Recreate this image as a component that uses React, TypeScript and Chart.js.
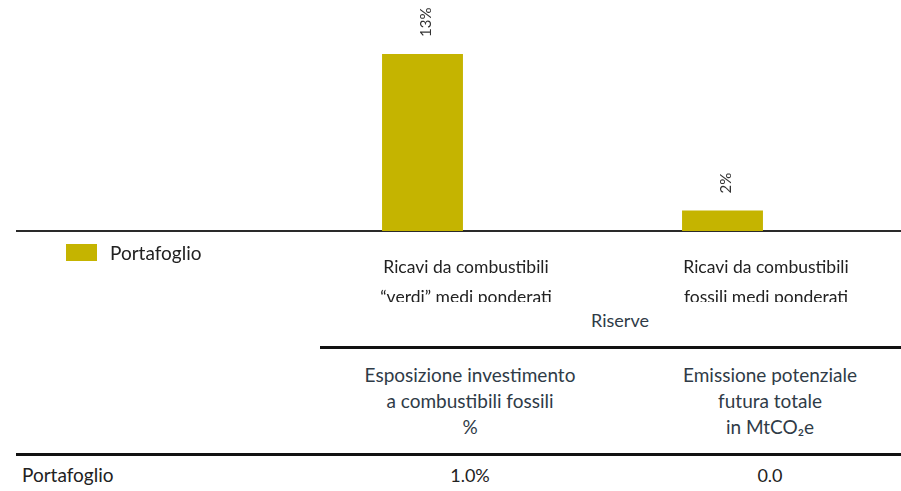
import React, { useEffect, useRef } from "react";
import { Chart, registerables } from "chart.js";

Chart.register(...registerables);

// ---- data ----
const categories: (string | string[])[] = [
  "",
  ["Ricavi da combustibili", "“verdi” medi ponderati"],
  ["Ricavi da combustibili", "fossili medi ponderati"],
];
const portfolioLabel = "Portafoglio";
const portfolioValues: (number | null)[] = [null, 13, 1.5];
const spacerValues: (number | null)[] = [null, null, null];

const tableGroupTitle = "Riserve";
const tableHeaders: string[][] = [
  ["Esposizione investimento", "a combustibili fossili", "%"],
  ["Emissione potenziale", "futura totale", "in MtCO₂e"],
];
const tableRowLabel = "Portafoglio";
const tableRowValues = ["1.0%", "0.0"];

const BAR_COLOR = "#C5B400";
const FONT = "Lato, 'Open Sans', sans-serif";

const valueLabels = {
  id: "valueLabels",
  afterDatasetsDraw(chart: any) {
    const ctx = chart.ctx;
    const meta = chart.getDatasetMeta(0);
    meta.data.forEach((bar: any, i: number) => {
      const v = portfolioValues[i];
      if (v == null) return;
      ctx.save();
      ctx.translate(bar.x + 4, bar.y - 17);
      ctx.rotate(-Math.PI / 2);
      ctx.font = `15px ${FONT}`;
      ctx.fillStyle = "#333";
      ctx.textAlign = "left";
      ctx.textBaseline = "middle";
      ctx.fillText(`${Math.round(v)}%`, 0, 0);
      ctx.restore();
    });
  },
};

export default function App() {
  const canvasRef = useRef<HTMLCanvasElement | null>(null);

  useEffect(() => {
    if (!canvasRef.current) return;
    const chart = new Chart(canvasRef.current, {
      type: "bar",
      data: {
        labels: categories as any,
        datasets: [
          {
            label: portfolioLabel,
            data: portfolioValues,
            backgroundColor: BAR_COLOR,
            borderWidth: 0,
            categoryPercentage: 0.58,
            barPercentage: 0.93,
          },
          {
            label: "",
            data: spacerValues,
            backgroundColor: "rgba(0,0,0,0)",
            categoryPercentage: 0.58,
            barPercentage: 0.93,
          },
        ],
      },
      options: {
        responsive: false,
        animation: false,
        devicePixelRatio: 1,
        layout: { padding: { top: 5, left: 0, right: 0, bottom: 0 } },
        plugins: {
          legend: { display: false },
          tooltip: { enabled: false },
        },
        scales: {
          x: {
            grid: { display: false, drawTicks: false },
            border: { display: true, color: "#2a2a2a", width: 2 },
            ticks: {
              autoSkip: false,
              maxRotation: 0,
              minRotation: 0,
              padding: 21,
              color: "#222",
              font: { family: FONT, size: 17.5, lineHeight: "30px" },
            },
            afterFit: (scale: any) => {
              scale.height = 71;
            },
          },
          y: {
            display: false,
            min: 0,
            max: 16,
            grid: { display: false },
          },
        },
      },
      plugins: [valueLabels],
    });
    return () => chart.destroy();
  }, []);

  const headColor = "#2f3b47";
  const rowColor = "#222";

  return (
    <div
      style={{
        position: "fixed",
        left: 0,
        top: 0,
        width: "100vw",
        height: "100vh",
        overflow: "hidden",
        fontFamily: FONT,
        background: "#fff",
      }}
    >
      <div style={{ position: "absolute", left: 16, top: 8, width: 904 }}>
        <div style={{ position: "relative", width: 900, height: 294 }}>
          <canvas
            ref={canvasRef}
            width={900}
            height={294}
            style={{ display: "block", width: 900, height: 294 }}
          />
        </div>
        <div
          style={{
            position: "absolute",
            left: 50,
            top: 236,
            width: 31,
            height: 17,
            background: BAR_COLOR,
          }}
        />
        <div
          style={{
            position: "absolute",
            left: 94,
            top: 235,
            fontSize: 19,
            lineHeight: "20px",
            color: "#222",
            whiteSpace: "nowrap",
          }}
        >
          {portfolioLabel}
        </div>
        <table
          style={{
            width: 904,
            tableLayout: "fixed",
            borderCollapse: "separate",
            borderSpacing: 0,
          }}
        >
          <colgroup>
            <col style={{ width: 304 }} />
            <col style={{ width: 300 }} />
            <col style={{ width: 300 }} />
          </colgroup>
          <tbody>
            <tr>
              <td style={{ padding: 0 }} />
              <td
                colSpan={2}
                style={{
                  textAlign: "center",
                  fontSize: 18,
                  lineHeight: "20px",
                  padding: "8px 0 16px",
                  borderBottom: "3px solid #111",
                  color: headColor,
                }}
              >
                {tableGroupTitle}
              </td>
            </tr>
            <tr>
              <td style={{ padding: 0, borderBottom: "3px solid #111" }} />
              {tableHeaders.map((lines, i) => (
                <td
                  key={i}
                  style={{
                    textAlign: "center",
                    fontSize: 19,
                    lineHeight: "26px",
                    padding: "13px 0 13px",
                    borderBottom: "3px solid #111",
                    color: headColor,
                  }}
                >
                  {lines.map((l, j) => (
                    <React.Fragment key={j}>
                      {l}
                      {j < lines.length - 1 ? <br /> : null}
                    </React.Fragment>
                  ))}
                </td>
              ))}
            </tr>
            <tr>
              <td
                style={{
                  padding: "9px 0 0 6px",
                  fontSize: 19,
                  lineHeight: "20px",
                  color: rowColor,
                }}
              >
                {tableRowLabel}
              </td>
              {tableRowValues.map((v, i) => (
                <td
                  key={i}
                  style={{
                    textAlign: "center",
                    padding: "9px 0 0",
                    fontSize: 18,
                    lineHeight: "20px",
                    color: rowColor,
                  }}
                >
                  {v}
                </td>
              ))}
            </tr>
          </tbody>
        </table>
      </div>
    </div>
  );
}
